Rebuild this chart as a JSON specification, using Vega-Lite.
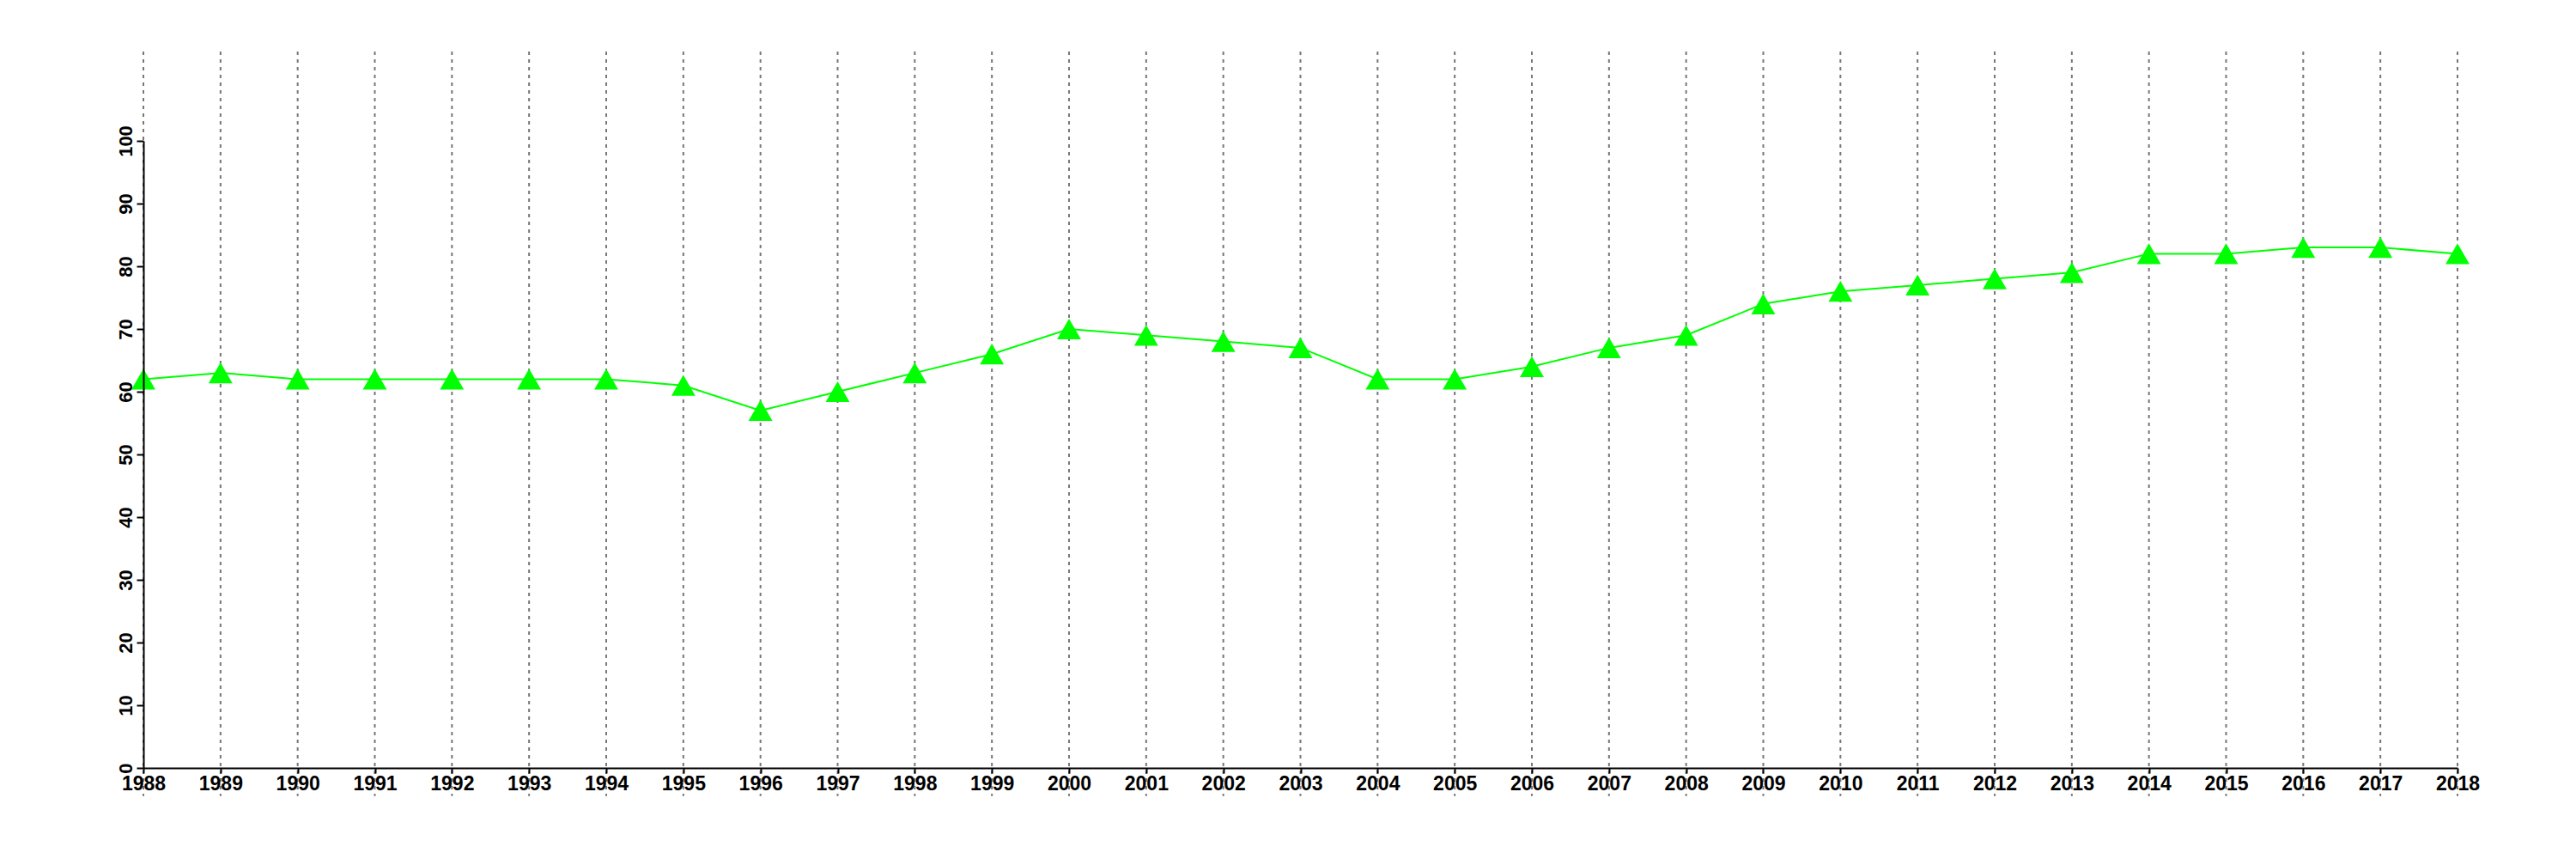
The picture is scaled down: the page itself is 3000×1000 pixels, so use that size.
{
  "$schema": "https://vega.github.io/schema/vega-lite/v6.json",
  "autosize": "none",
  "width": 2695,
  "height": 730,
  "padding": {"left": 167, "top": 164, "right": 138, "bottom": 106},
  "background": "white",
  "config": {
    "view": {"stroke": null},
    "axis": {
      "labelFont": "Liberation Sans",
      "labelFontWeight": "bold",
      "labelFontSize": 23,
      "labelColor": "black",
      "domainColor": "black",
      "domainWidth": 2,
      "tickColor": "black",
      "tickWidth": 2,
      "grid": false,
      "title": null
    }
  },
  "data": {
    "values": [
      {"year": 1988, "value": 62},
      {"year": 1989, "value": 63},
      {"year": 1990, "value": 62},
      {"year": 1991, "value": 62},
      {"year": 1992, "value": 62},
      {"year": 1993, "value": 62},
      {"year": 1994, "value": 62},
      {"year": 1995, "value": 61},
      {"year": 1996, "value": 57},
      {"year": 1997, "value": 60},
      {"year": 1998, "value": 63},
      {"year": 1999, "value": 66},
      {"year": 2000, "value": 70},
      {"year": 2001, "value": 69},
      {"year": 2002, "value": 68},
      {"year": 2003, "value": 67},
      {"year": 2004, "value": 62},
      {"year": 2005, "value": 62},
      {"year": 2006, "value": 64},
      {"year": 2007, "value": 67},
      {"year": 2008, "value": 69},
      {"year": 2009, "value": 74},
      {"year": 2010, "value": 76},
      {"year": 2011, "value": 77},
      {"year": 2012, "value": 78},
      {"year": 2013, "value": 79},
      {"year": 2014, "value": 82},
      {"year": 2015, "value": 82},
      {"year": 2016, "value": 83},
      {"year": 2017, "value": 83},
      {"year": 2018, "value": 82}
    ]
  },
  "encoding": {
    "x": {
      "field": "year",
      "type": "quantitative",
      "scale": {"domain": [1988, 2018], "nice": false, "zero": false},
      "axis": {
        "values": [1988,1989,1990,1991,1992,1993,1994,1995,1996,1997,1998,1999,2000,2001,2002,2003,2004,2005,2006,2007,2008,2009,2010,2011,2012,2013,2014,2015,2016,2017,2018],
        "format": "d",
        "tickSize": 6,
        "labelPadding": 1,
        "labelFlush": false,
        "labelOverlap": false,
        "zindex": 1
      }
    }
  },
  "layer": [
    {
      "mark": {"type": "rule", "color": "#777777", "strokeWidth": 2, "strokeDash": [4, 5], "clip": false},
      "encoding": {
        "y": {"datum": 114.25, "type": "quantitative"},
        "y2": {"datum": -4.5}
      }
    },
    {
      "mark": {"type": "line", "color": "#00ff00", "strokeWidth": 2},
      "encoding": {
        "y": {
          "field": "value",
          "type": "quantitative",
          "scale": {"domain": [0, 100], "nice": false},
          "axis": {
            "values": [0,10,20,30,40,50,60,70,80,90,100],
            "tickSize": 8,
            "labelFontSize": 22,
            "labelAngle": -90,
            "labelAlign": "center",
            "labelBaseline": "alphabetic",
            "labelPadding": 6,
            "labelFlush": false,
            "labelOverlap": false,
            "zindex": 1
          }
        }
      }
    },
    {
      "mark": {"type": "point", "shape": "triangle-up", "filled": true, "color": "#00ff00", "opacity": 1, "size": 780},
      "encoding": {
        "y": {"field": "value", "type": "quantitative"}
      }
    }
  ]
}
